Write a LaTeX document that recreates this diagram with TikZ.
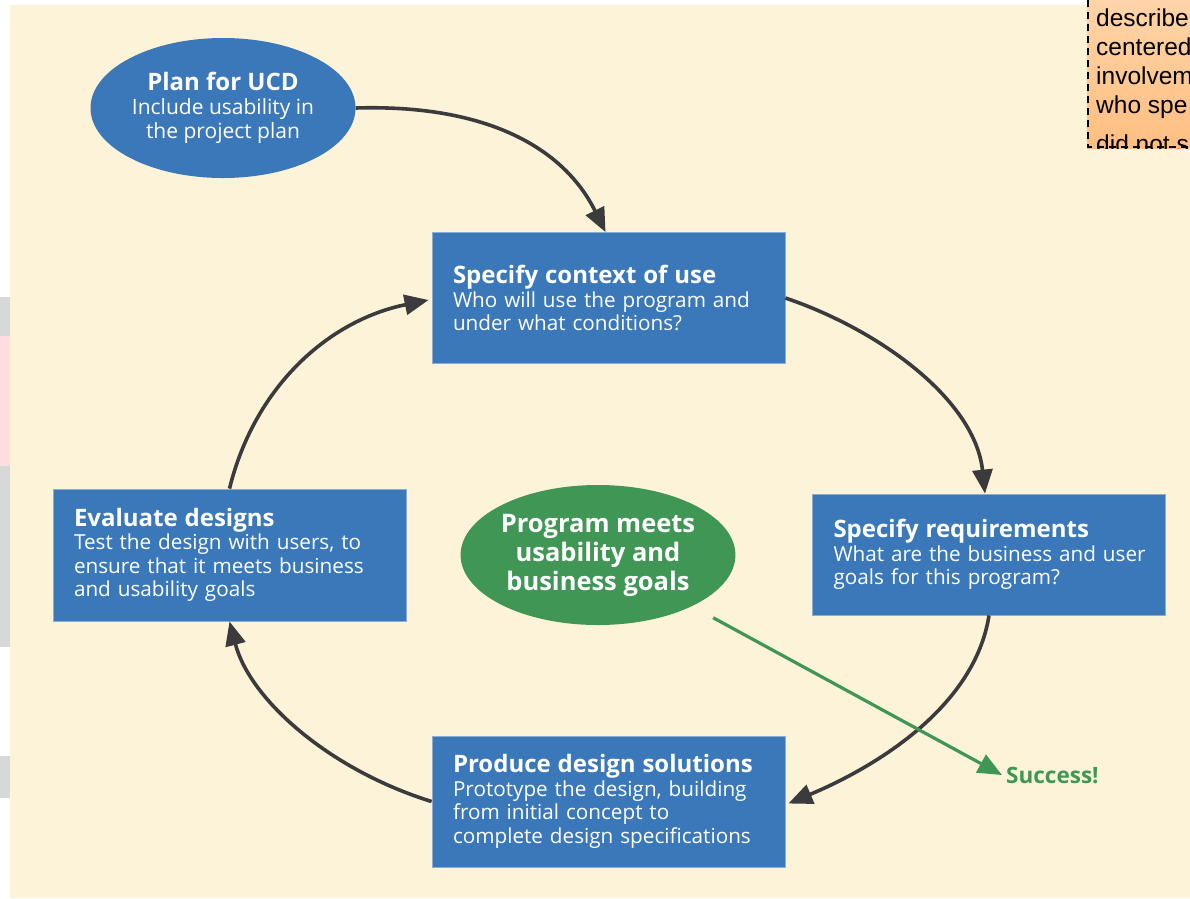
\documentclass[tikz,border=0pt]{standalone}
\usepackage{fontspec}
\setmainfont{Open Sans}
\newfontfamily\webfont{Liberation Sans}
\usetikzlibrary{arrows.meta,shapes.geometric}

\definecolor{cream}{HTML}{FDF3D8}
\definecolor{boxblue}{HTML}{3A78B9}
\definecolor{goalgreen}{HTML}{3F9655}
\definecolor{arrowgray}{HTML}{3B3B3D}
\definecolor{stripgray}{HTML}{D8D8D8}
\definecolor{strippink}{HTML}{FCDDE0}
\definecolor{noteorangetop}{HTML}{FFD4A8}
\definecolor{noteorangebot}{HTML}{FFBE80}

\tikzset{
  stepbox/.style={rectangle, fill=boxblue, draw=boxblue!60!white, line width=0.8pt,
    text=white, align=left, inner xsep=21pt, inner ysep=0pt,
    text width=311pt, minimum width=353pt,
    font=\fontsize{20.7}{23.5}\selectfont},
  planoval/.style={ellipse, fill=boxblue, text=white, align=center, inner sep=0pt,
    minimum width=265pt, minimum height=140pt,
    font=\fontsize{21}{24}\selectfont},
  goaloval/.style={ellipse, fill=goalgreen, text=white, align=center, inner sep=0pt,
    minimum width=270pt, minimum height=140pt,
    font=\fontsize{25.5}{29}\selectfont\bfseries},
  cycle/.style={draw=arrowgray, line width=3.6pt,
    -{Triangle[length=24pt,width=20pt]}},
  success/.style={draw=goalgreen, line width=3.2pt,
    -{Triangle[length=24pt,width=20pt]}}
}
\newcommand{\steptitle}[1]{{\fontsize{24}{28}\selectfont\bfseries #1}\\}

\begin{document}
\begin{tikzpicture}[x=1pt,y=-1pt]
\useasboundingbox (0,0) rectangle (1190,898);
% page background and side strips
\fill[white] (0,0) rectangle (1190,898);
\fill[cream] (10,5) rectangle (1190,898);
\fill[stripgray] (0,297) rectangle (10,336);
\fill[strippink] (0,336) rectangle (10,466);
\fill[stripgray] (0,466) rectangle (10,647);
\fill[stripgray] (0,756) rectangle (10,798);

% note panel at the top right
\begin{scope}
  \clip (1087,0) rectangle (1190,148);
  \shade[top color=noteorangetop, bottom color=noteorangebot] (1087,0) rectangle (1190,148);
  \node (notetext) [anchor=north west, inner sep=0pt, align=left,
     font=\webfont\fontsize{24.5}{29}\selectfont] at (1096,8.5)
     {describe\\centered\\involvem\\who spe};
  \node (notelast) [anchor=base west, inner sep=0pt,
     font=\webfont\fontsize{24.5}{29}\selectfont] at (1096,152) {did not s};
\end{scope}
\draw[black, line width=1.6pt, dash pattern=on 7pt off 5pt] (1088,0) -- (1088,147) -- (1190,147);

% steps
\node (plan) [planoval] at (223,108)
  {{\fontsize{24}{28}\selectfont\bfseries Plan for UCD}\\Include usability in\\the project plan};
\node (context) [stepbox, minimum height=131pt] at (608.5,298)
  {\steptitle{Specify context of use}\mbox{Who will use the program and}\\under what conditions?};
\node (req) [stepbox, minimum height=121pt] at (989,554.5)
  {\steptitle{Specify requirements}\mbox{What are the business and user}\\goals for this program?};
\node (produce) [stepbox, minimum height=131pt] at (608.5,801.5)
  {\steptitle{Produce design solutions}\mbox{Prototype the design, building}\\from initial concept to\\\mbox{complete design specifications}};
\node (evaluate) [stepbox, minimum height=132pt] at (229.5,555)
  {\steptitle{Evaluate designs}\mbox{Test the design with users, to}\\\mbox{ensure that it meets business}\\and usability goals};
\node (goal) [goaloval] at (598,555) {Program meets\\usability and\\business goals};
\node (success) [anchor=west, text=goalgreen, inner sep=0pt,
  font=\fontsize{22.5}{26}\selectfont\bfseries] at (1006,775) {Success!};

% cycle connectors
\draw[cycle] (plan.east) .. controls (490,104) and (565,150) .. ([xshift=-3pt]context.north);
\draw[cycle] (context.east) .. controls (880,330) and (975,400) .. ([xshift=-4pt]req.north);
\draw[cycle] (req.south) .. controls (975,705) and (880,765) .. ([xshift=3pt,yshift=-2pt]produce.east);
\draw[cycle] (produce.west) .. controls (330,770) and (250,700) .. (evaluate.south);
\draw[cycle] (evaluate.north) .. controls (255,385) and (330,320) .. ([xshift=-3pt,yshift=-2pt]context.west);
\draw[success, shorten <=24pt] (goal) -- ([xshift=-4pt]success.west);
\end{tikzpicture}
\end{document}
